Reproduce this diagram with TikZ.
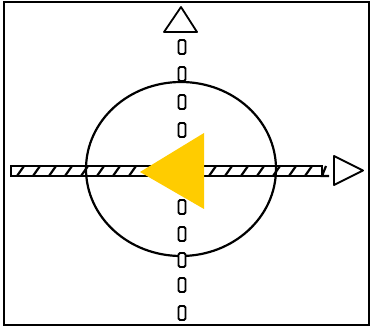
\documentclass[tikz,border=0pt]{standalone}
\usetikzlibrary{shapes.geometric}
\definecolor{gold}{RGB}{255,204,0}
\begin{document}
\begin{tikzpicture}[x=1pt,y=-1pt,
  frame/.style={draw=black,line width=1.6pt},
  ring/.style={draw=black,line width=2.2pt},
  dashbox/.style={draw=black,line width=1.8pt,rounded corners=1.5pt,fill=white},
  openarrow/.style={draw=black,line width=1.8pt,fill=white,line join=round},
  band/.style={draw=black,line width=2pt},
  hatch/.style={draw=black,line width=2.2pt},
  pointer/.style={fill=gold}]
\useasboundingbox (0,0) rectangle (371,328);
\fill[white] (0,0) rectangle (371,328);
\draw[frame] (4,2) rectangle (369,325);
% circle
\node[ring,ellipse,minimum width=190pt,minimum height=174pt,inner sep=0pt] (circ) at (181,169) {};
% horizontal hatched band
\coordinate (hl) at (11,171);
\coordinate (hr) at (328,171);
\draw[band] (11,166) rectangle (322,176);
\foreach \x in {20,36,52,68,84,100,116,132,212,228,244,260,276,292,308}{
  \draw[hatch] (\x+4,166) -- (\x-3,176);
}
\draw[hatch] (326,166) -- (322,176) -- (329,176);
% right open arrow
\draw[openarrow] (334,156) -- (363,170.5) -- (334,185) -- cycle;
\node[inner sep=0pt] (ra) at (344,170.5) {};
% vertical dashed axis
\foreach \y in {47,74,102,130,207,234,260,285,313}{
  \draw[dashbox] (178.5,\y-7) rectangle (185.5,\y+7);
}
% top open arrow
\draw[openarrow] (164,32) -- (181,7) -- (197,32) -- cycle;
\node[inner sep=0pt] (ta) at (181,24) {};
% yellow pointer
\fill[pointer] (140,172) -- (204,133) -- (204,209) -- cycle;
\node[inner sep=0pt] (yp) at (182,171) {};
\end{tikzpicture}
\end{document}
